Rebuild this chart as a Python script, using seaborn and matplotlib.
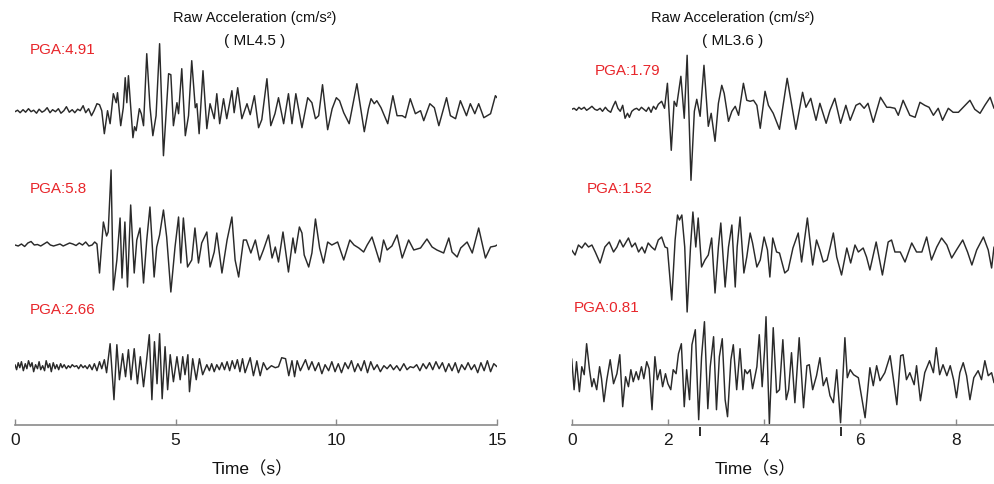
import matplotlib
matplotlib.use("Agg")
import matplotlib.pyplot as plt
import pandas as pd
import seaborn as sns

# ---------------- data (amplitude in display units) ----------------
left_titles = ["Raw Acceleration (cm/s²)", "( ML4.5 )"]
right_titles = ["Raw Acceleration (cm/s²)", "( ML3.6 )"]
left_pga = ["PGA:4.91", "PGA:5.8", "PGA:2.66"]
right_pga = ["PGA:1.79", "PGA:1.52", "PGA:0.81"]
left_ticks = [0, 5, 10, 15]
right_ticks = [0, 2, 4, 6, 8]
right_marks = [2.67, 5.59]

left_top = [(0.0,0),(0.08,1.5),(0.16,-1),(0.25,2),(0.33,-0.5),(0.42,3),(0.5,0),(0.58,1.5),(0.67,-1.5),(0.75,2.5),
    (0.84,-0.5),(0.92,1),(1.0,4),(1.09,-1),(1.17,2),(1.26,0),(1.35,3),(1.43,-1.5),(1.52,1),(1.6,5),
    (1.69,-0.5),(1.78,2),(1.86,-1),(1.95,2.5),(2.03,1),(2.12,6),(2.2,-1),(2.29,3),(2.38,-4),(2.46,1),
    (2.55,8),(2.63,7),(2.7,1),(2.78,-22),(2.88,1),(2.96,-12),(3.06,18),(3.15,9),(3.19,19),(3.29,-14),
    (3.37,4),(3.43,34),(3.48,9),(3.53,36),(3.67,-26),(3.72,-15),(3.77,-19),(3.87,3),(3.93,-2),(4.0,-14),
    (4.10,58),(4.20,5),(4.29,-24),(4.39,-4),(4.50,68),(4.62,-44),(4.78,38),(4.85,37),(4.93,-14),(5.04,9),
    (5.09,-2),(5.19,43),(5.30,-24),(5.40,-4),(5.50,51),(5.61,4),(5.66,8),(5.73,-22),(5.85,41),(5.97,-17),
    (6.07,8),(6.20,-7),(6.28,18),(6.37,-12),(6.49,13),(6.59,-7),(6.75,21),(6.82,-1),(6.93,24),(7.06,-7),
    (7.22,8),(7.32,-3),(7.45,16),(7.58,-16),(7.68,-8),(7.84,33),(7.96,-14),(8.09,-2),(8.20,14),(8.36,-12),
    (8.51,18),(8.62,-12),(8.74,18),(8.93,-16),(9.11,14),(9.24,9),(9.35,-7),(9.45,-4),(9.57,27),(9.73,-18),
    (9.87,3),(10.0,14),(10.1,11),(10.23,-1),(10.4,-12),(10.64,28),(10.87,-20),(11.0,3),(11.08,13),(11.18,8),
    (11.26,11),(11.39,4),(11.6,-12),(11.76,16),(11.89,-4),(12.05,-4),(12.15,-6),(12.3,13),(12.46,-2),(12.62,1),
    (12.72,-9),(12.91,8),(13.05,4),(13.19,-14),(13.43,14),(13.55,-4),(13.71,-7),(13.86,11),(14.05,-4),(14.17,8),
    (14.31,-2),(14.43,8),(14.59,-6),(14.8,-2),(14.95,16),(15.0,14)]

left_mid = [(0.0,0),(0.1,-1),(0.2,1),(0.3,-1.5),(0.4,2),(0.5,3.5),(0.6,0),(0.7,0.5),(0.8,-1),(0.9,1),
    (1.0,3),(1.1,0),(1.2,-1),(1.3,0),(1.4,1),(1.5,-1),(1.6,0.5),(1.7,2),(1.8,1),(1.9,-0.5),
    (2.0,2),(2.1,0),(2.2,3),(2.3,-1),(2.4,0),(2.48,3),(2.55,1),(2.63,-28),(2.75,23),(2.85,9),
    (2.9,13),(2.99,75),(3.06,-45),(3.17,-15),(3.27,27),(3.33,-33),(3.42,23),(3.50,-42),(3.60,40),(3.71,-28),
    (3.79,5),(3.89,17),(4.0,-38),(4.1,5),(4.2,38),(4.33,-32),(4.41,-2),(4.5,10),(4.62,35),(4.72,8),
    (4.85,-47),(4.98,-2),(5.09,28),(5.16,-18),(5.24,27),(5.37,-22),(5.5,-15),(5.6,17),(5.71,-18),(5.81,2),
    (5.97,13),(6.07,-22),(6.2,-7),(6.28,12),(6.44,-28),(6.6,5),(6.75,28),(6.85,-15),(6.96,-32),(7.11,5),
    (7.2,5),(7.34,-8),(7.48,5),(7.61,-15),(7.73,-5),(7.89,10),(8.0,-13),(8.1,-2),(8.2,-17),(8.34,13),
    (8.51,-27),(8.65,7),(8.72,-8),(8.85,18),(8.93,12),(9.0,-10),(9.14,-22),(9.24,-8),(9.35,26),(9.48,-3),
    (9.6,-18),(9.73,3),(9.86,0),(10.04,3),(10.23,-15),(10.42,5),(10.55,0),(10.7,-3),(10.85,-7),(10.96,0),
    (11.11,8),(11.35,-17),(11.47,5),(11.58,-5),(11.73,-1),(11.89,10),(12.05,-13),(12.25,5),(12.41,-5),(12.62,-3),
    (12.82,6),(12.98,-2),(13.13,-5),(13.34,-8),(13.5,7),(13.6,-7),(13.76,-12),(13.87,-3),(14.07,3),(14.23,-8),
    (14.43,17),(14.64,-13),(14.8,-2),(14.95,-1),(15.0,0)]

left_bot = [(0.0,2),(0.05,-3),(0.1,4),(0.15,-1),(0.2,5),(0.26,-4),(0.32,3),(0.37,-2),(0.42,6),(0.48,0),
    (0.53,4),(0.58,-5),(0.64,2),(0.7,-2),(0.75,5),(0.8,-3),(0.86,1),(0.92,-4),(0.97,6),(1.03,-1),
    (1.08,3),(1.13,-5),(1.19,4),(1.25,-2),(1.3,2),(1.36,-3),(1.42,3),(1.47,-1),(1.53,2),(1.6,-2),
    (1.66,1),(1.72,-1),(1.78,2),(1.85,0),(1.92,1),(1.98,-2),(2.05,2),(2.12,-1),(2.18,1),(2.25,-2),
    (2.32,2),(2.4,-3),(2.47,3),(2.55,-4),(2.63,5),(2.7,-2),(2.78,7),(2.85,-6),(2.96,23),(3.08,-33),
    (3.17,22),(3.25,-13),(3.35,13),(3.44,-10),(3.53,17),(3.61,-13),(3.71,18),(3.81,-17),(3.9,10),(4.0,-20),
    (4.09,5),(4.18,32),(4.26,-33),(4.34,25),(4.42,-17),(4.5,33),(4.58,-32),(4.67,20),(4.75,-23),(4.83,12),
    (4.93,-15),(5.04,10),(5.14,-13),(5.22,10),(5.29,-8),(5.38,12),(5.43,-25),(5.53,8),(5.64,-13),(5.74,8),
    (5.84,-8),(5.97,2),(6.05,-4),(6.12,3),(6.2,-5),(6.28,2),(6.36,-3),(6.44,4),(6.52,-3),(6.6,5),
    (6.68,-4),(6.76,6),(6.84,-2),(6.92,7),(7.0,-5),(7.08,8),(7.16,-6),(7.32,9),(7.42,-9),(7.53,6),
    (7.63,-9),(7.73,4),(7.84,-3),(7.98,1),(8.1,-1),(8.2,0),(8.3,9),(8.42,8),(8.52,-9),(8.62,6),
    (8.7,-10),(8.78,6),(8.88,-4),(9.04,7),(9.14,-3),(9.24,5),(9.34,-4),(9.45,4),(9.55,-7),(9.65,2),
    (9.76,-4),(9.86,5),(9.96,-5),(10.06,3),(10.16,-6),(10.27,4),(10.37,-2),(10.47,6),(10.57,-5),(10.67,3),
    (10.77,-4),(10.87,6),(10.97,-6),(11.07,5),(11.17,-3),(11.27,2),(11.37,-5),(11.48,1),(11.58,-2),(11.68,2),
    (11.78,-3),(11.88,1),(11.98,-4),(12.1,3),(12.2,-3),(12.3,0),(12.4,-1),(12.5,2),(12.6,-4),(12.7,3),
    (12.8,-2),(12.9,4),(13.0,-3),(13.1,5),(13.2,-2),(13.3,4),(13.4,-5),(13.5,3),(13.6,-4),(13.7,4),
    (13.8,-6),(13.9,2),(14.0,-3),(14.1,4),(14.2,-3),(14.3,2),(14.4,-6),(14.5,4),(14.6,-4),(14.7,6),
    (14.8,-5),(14.9,3),(15.0,0)]

right_top = [(0.0,0),(0.05,1),(0.1,-1),(0.15,2),(0.2,0),(0.26,2),(0.31,-1),(0.37,1),(0.42,3),(0.48,0),
    (0.53,-1),(0.59,1),(0.64,-2),(0.7,2),(0.75,-1),(0.81,-3),(0.86,3),(0.91,8),(0.96,1),(1.01,-2),
    (1.06,4),(1.11,-9),(1.16,-4),(1.2,-8),(1.25,-2),(1.3,0),(1.35,1),(1.4,-1),(1.45,2),(1.5,0),
    (1.55,-2),(1.6,2),(1.65,-3),(1.7,3),(1.75,0),(1.8,5),(1.87,8),(1.93,1),(1.99,26),(2.07,-41),
    (2.13,8),(2.18,3),(2.27,33),(2.34,-9),(2.40,54),(2.48,-71),(2.55,-2),(2.6,10),(2.67,-7),(2.75,44),
    (2.84,-17),(2.9,-4),(2.98,-32),(3.05,6),(3.12,24),(3.17,16),(3.26,-12),(3.33,-2),(3.4,3),(3.47,-6),
    (3.57,26),(3.64,9),(3.71,8),(3.78,9),(3.85,4),(3.92,-19),(4.02,18),(4.09,4),(4.19,-4),(4.32,-20),
    (4.48,31),(4.66,-20),(4.8,17),(4.87,2),(4.97,11),(5.08,-11),(5.16,6),(5.29,-14),(5.37,-1),(5.47,11),
    (5.59,-14),(5.7,4),(5.79,-11),(5.91,4),(5.99,6),(6.08,1),(6.16,6),(6.27,-13),(6.42,12),(6.55,2),
    (6.62,2),(6.72,1),(6.79,-6),(6.89,9),(7.03,-6),(7.14,-8),(7.24,7),(7.34,4),(7.43,2),(7.52,-6),
    (7.62,1),(7.71,-11),(7.83,1),(7.93,-3),(8.04,-3),(8.14,2),(8.28,9),(8.38,0),(8.49,-4),(8.59,4),
    (8.7,12),(8.78,1)]

right_mid = [(0.0,0),(0.07,-5),(0.14,5),(0.21,2),(0.28,7),(0.35,3),(0.42,5),(0.49,-2),(0.59,-13),(0.69,3),
    (0.78,8),(0.87,-2),(0.94,3),(1.0,10),(1.07,3),(1.18,12),(1.25,3),(1.32,7),(1.39,-2),(1.46,3),
    (1.52,-3),(1.59,7),(1.66,3),(1.73,0),(1.8,10),(1.87,13),(1.94,3),(1.99,2),(2.08,-50),(2.15,10),
    (2.2,35),(2.24,30),(2.29,35),(2.35,3),(2.4,-62),(2.47,3),(2.52,38),(2.58,3),(2.63,32),(2.7,-17),
    (2.77,-10),(2.84,-5),(2.91,12),(2.98,-43),(3.05,3),(3.1,27),(3.19,-37),(3.26,3),(3.33,25),(3.40,-37),
    (3.44,3),(3.50,33),(3.58,-23),(3.64,-7),(3.71,17),(3.76,7),(3.85,-17),(3.92,-10),(4.0,13),(4.07,0),
    (4.12,-27),(4.18,12),(4.26,-2),(4.32,-3),(4.43,-23),(4.5,-20),(4.6,2),(4.71,17),(4.78,-12),(4.9,32),
    (5.01,-15),(5.09,10),(5.16,0),(5.23,-12),(5.31,-10),(5.37,2),(5.44,17),(5.51,-7),(5.61,-25),(5.72,2),
    (5.80,-13),(5.89,5),(5.96,-2),(6.06,2),(6.13,-7),(6.2,-20),(6.33,8),(6.46,-25),(6.58,8),(6.65,10),
    (6.72,-2),(6.83,-2),(6.93,-12),(7.07,7),(7.17,-2),(7.28,-2),(7.38,13),(7.48,-10),(7.59,3),(7.69,12),
    (7.8,5),(7.9,-8),(8.0,0),(8.13,10),(8.23,-2),(8.32,-15),(8.42,0),(8.56,13),(8.66,0),(8.73,-18),
    (8.78,3)]

right_bot = [(0.0,18),(0.05,-13),(0.10,15),(0.16,-15),(0.21,10),(0.26,2),(0.31,33),(0.37,7),(0.42,-10),(0.46,-2),
    (0.52,-13),(0.58,10),(0.62,-2),(0.67,-25),(0.73,-3),(0.8,17),(0.87,-7),(0.94,3),(1.0,22),(1.06,-30),
    (1.12,0),(1.18,-10),(1.23,7),(1.28,-5),(1.34,5),(1.39,-3),(1.45,10),(1.5,-2),(1.56,15),(1.61,8),
    (1.67,-33),(1.73,20),(1.78,-3),(1.84,7),(1.89,-10),(1.95,3),(2.0,-7),(2.06,-13),(2.11,7),(2.17,3),
    (2.22,23),(2.28,33),(2.34,-30),(2.39,7),(2.45,-23),(2.5,32),(2.57,47),(2.64,-43),(2.7,20),(2.76,55),
    (2.83,-32),(2.88,10),(2.95,40),(3.01,-33),(3.07,20),(3.13,38),(3.19,-23),(3.24,-40),(3.31,17),(3.36,32),
    (3.43,-13),(3.5,28),(3.56,-13),(3.6,7),(3.65,3),(3.71,7),(3.76,-12),(3.85,10),(3.9,42),(3.96,-10),
    (4.01,27),(4.04,60),(4.11,-47),(4.19,49),(4.26,-16),(4.32,-13),(4.39,37),(4.46,-23),(4.51,-13),(4.57,24),
    (4.64,-26),(4.73,39),(4.82,-31),(4.89,11),(4.94,12),(5.01,-13),(5.09,1),(5.16,19),(5.23,-9),(5.3,-1),
    (5.37,-19),(5.44,-26),(5.51,7),(5.59,-46),(5.68,39),(5.73,-1),(5.79,7),(5.86,2),(5.96,-1),(6.10,-41),
    (6.20,9),(6.27,-9),(6.34,11),(6.41,-4),(6.51,4),(6.62,21),(6.69,-3),(6.76,-28),(6.84,21),(6.89,22),
    (6.96,-3),(7.03,4),(7.12,-8),(7.17,11),(7.25,-24),(7.34,4),(7.44,16),(7.52,4),(7.58,29),(7.65,2),
    (7.72,12),(7.8,1),(7.87,11),(7.94,-3),(8.0,-21),(8.07,4),(8.14,14),(8.21,1),(8.28,-23),(8.36,-1),
    (8.45,6),(8.52,-3),(8.59,16),(8.66,1),(8.73,4),(8.78,-6)]

# ---------------- layout (pixels of the 995x484 canvas) ----------------
W, H = 995, 484
AX_BOTTOM = 425
left_offsets = [111.7, 245, 366.7]
right_offsets = [109.3, 250, 376.7]
left_pga_pos = [(30, 50), (30, 189), (30, 310)]
right_pga_pos = [(595, 71), (587, 189), (574, 308)]

sns.set_theme(style="white")
plt.rcParams["font.family"] = ["Liberation Sans", "Noto Sans CJK SC", "DejaVu Sans"]

fig = plt.figure(figsize=(W / 100, H / 100), dpi=100)

def make_axes(x0, x1):
    return fig.add_axes([x0 / W, 1 - AX_BOTTOM / H, (x1 - x0) / W, AX_BOTTOM / H])

def ftext(px, py, s, **kw):
    fig.text(px / W, 1 - py / H, s, **kw)

LINE = "#2a2a2a"
AXC = "#8a8a8a"
RED = "#e8262b"

panels = [
    dict(x0=15, x1=497, xmax=15, traces=[left_top, left_mid, left_bot], offs=left_offsets,
         pga=left_pga, pga_pos=left_pga_pos, ticks=left_ticks, titles=left_titles, tcx=255, lcx=252),
    dict(x0=571.7, x1=994, xmax=8.78, traces=[right_top, right_mid, right_bot], offs=right_offsets,
         pga=right_pga, pga_pos=right_pga_pos, ticks=right_ticks, titles=right_titles, tcx=733, lcx=755),
]

axes = []
for p in panels:
    ax = make_axes(p["x0"], p["x1"])
    axes.append(ax)
    for tr, off in zip(p["traces"], p["offs"]):
        df = pd.DataFrame(tr, columns=["t", "a"])
        df["y"] = df["a"] - off
        sns.lineplot(data=df, x="t", y="y", ax=ax, color=LINE, lw=1.05,
                     estimator=None, sort=False, legend=False,
                     solid_joinstyle="round", solid_capstyle="round")
    ax.set_xlim(0, p["xmax"])
    ax.set_ylim(-AX_BOTTOM, 0)
    ax.set_yticks([])
    ax.set_xticks(p["ticks"])
    ax.set_xticklabels([str(v) for v in p["ticks"]])
    ax.set_xlabel("")
    ax.set_ylabel("")
    for s in ["left", "right", "top"]:
        ax.spines[s].set_visible(False)
    ax.spines["bottom"].set_color(AXC)
    ax.spines["bottom"].set_linewidth(1.2)
    ax.tick_params(axis="x", direction="in", length=4, width=1, color=AXC,
                   labelsize=12.5, labelcolor="#1a1a1a", pad=6, bottom=True)
    ax.patch.set_alpha(0)
    for s, (px, py) in zip(p["pga"], p["pga_pos"]):
        ftext(px, py, s, color=RED, fontsize=11, ha="left", va="center")
    ftext(p["tcx"], 18, p["titles"][0], fontsize=10.5, ha="center", va="center", color="#111111")
    ftext(p["tcx"], 41, p["titles"][1], fontsize=11, ha="center", va="center", color="#111111")
    ftext(p["lcx"], 469, "Time（s）", fontsize=12.5, ha="center", va="center", color="#111111")

# arrival marks below the right axis
axr = axes[1]
axr.vlines(right_marks, -AX_BOTTOM - 2, -AX_BOTTOM - 11, colors="#1a1a1a", lw=1.3, clip_on=False)

fig.savefig("out.png", dpi=100)
